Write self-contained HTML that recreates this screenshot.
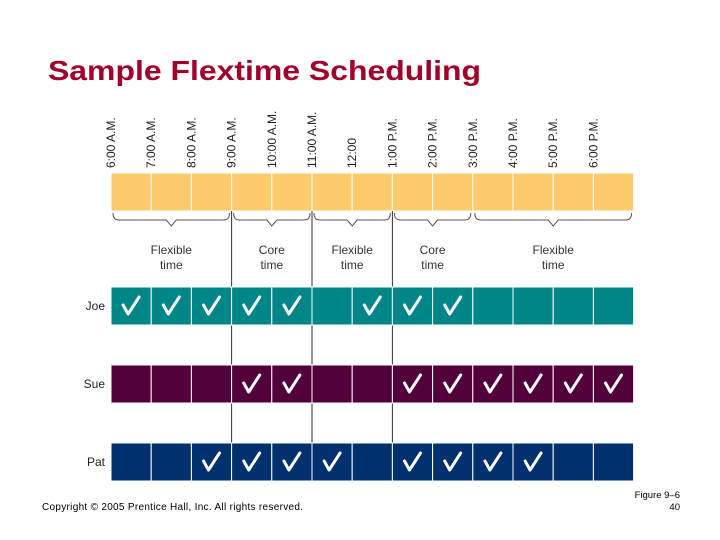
<!DOCTYPE html>
<html><head><meta charset="utf-8"><style>
body{margin:0;background:#fff;}
svg{display:block;font-family:"Liberation Sans",sans-serif;}
</style></head><body>
<svg id="c" width="720" height="540">
<text x="48" y="80" font-size="28" font-weight="bold" textLength="433" lengthAdjust="spacingAndGlyphs" fill="#a0002a">Sample Flextime Scheduling</text>
<text x="42" y="510" font-size="10" textLength="261" fill="#000">Copyright © 2005 Prentice Hall, Inc. All rights reserved.</text>
<text x="680" y="498" font-size="9.5" text-anchor="end" fill="#000">Figure 9–6</text>
<text x="680" y="510" font-size="9.5" text-anchor="end" fill="#000">40</text>
<g id="g"></g>
</svg>
<script>
const times=["6:00 A.M.","7:00 A.M.","8:00 A.M.","9:00 A.M.","10:00 A.M.","11:00 A.M.","12:00","1:00 P.M.","2:00 P.M.","3:00 P.M.","4:00 P.M.","5:00 P.M.","6:00 P.M."];
const people=["Joe","Sue","Pat"];
const joeHours=[1,1,1,1,1,0,1,1,1,0,0,0,0];
const sueHours=[0,0,0,1,1,0,0,1,1,1,1,1,1];
const patHours=[0,0,1,1,1,1,0,1,1,1,1,0,0];
const periodLabels=[["Flexible","time"],["Core","time"],["Flexible","time"],["Core","time"],["Flexible","time"]];
const periodBounds=[0,3,5,7,9,13];
const coreLines=[3,5,7];
const NS="http://www.w3.org/2000/svg";
const g=document.getElementById('g');
const x0=111,cw=40.2;
const X=i=>x0+i*cw;
function el(t,a,p){const e=document.createElementNS(NS,t);for(const k in a)e.setAttribute(k,a[k]);(p||g).appendChild(e);return e;}
times.forEach((t,i)=>{const tx=X(i)+4,ty=168;
const e=el('text',{x:tx,y:ty,transform:`rotate(-90 ${tx} ${ty})`,'font-size':12,fill:'#222'});e.textContent=t;

});
times.forEach((t,i)=>{const r=el('rect',{x:X(i),y:173,width:cw,height:38,fill:'#fdcb6b',stroke:'#fff','stroke-width':1});

});
coreLines.forEach(i=>{const l=el('line',{x1:X(i),x2:X(i),y1:211,y2:443,stroke:'#333','stroke-width':1});

});
periodLabels.forEach((lb,k)=>{const a=X(periodBounds[k])+2,b=X(periodBounds[k+1])-2,m=(a+b)/2;
const p=el('path',{d:`M${a} 213 Q${a} 220 ${a+6} 220 L${m-5} 220 L${m} 226 L${m+5} 220 L${b-6} 220 Q${b} 220 ${b} 213`,fill:'none',stroke:'#555','stroke-width':1});


lb.forEach((s,j)=>{const t=el('text',{x:m,y:254+j*15,'text-anchor':'middle','font-size':12,fill:'#333'});t.textContent=s;

});});
const rows=[joeHours,sueHours,patHours];
const colors=["#008688","#52003a","#00306e"];
const ys=[287,365,443];
rows.forEach((vals,r)=>{
const nm=el('text',{x:105,y:ys[r]+23,'text-anchor':'end','font-size':12,fill:'#222'});nm.textContent=people[r];


vals.forEach((v,i)=>{const c=el('rect',{x:X(i),y:ys[r],width:cw,height:38,fill:colors[r],stroke:'#fff','stroke-width':1});


if(v){const cx=X(i)+cw/2,cy=ys[r]+19;
const k=el('path',{d:`M${cx-8} ${cy-1} L${cx-3} ${cy+8} L${cx+8} ${cy-9}`,fill:'none',stroke:'#fff','stroke-width':3,'stroke-linecap':'round','stroke-linejoin':'round'});

}});});
</script>
</body></html>
